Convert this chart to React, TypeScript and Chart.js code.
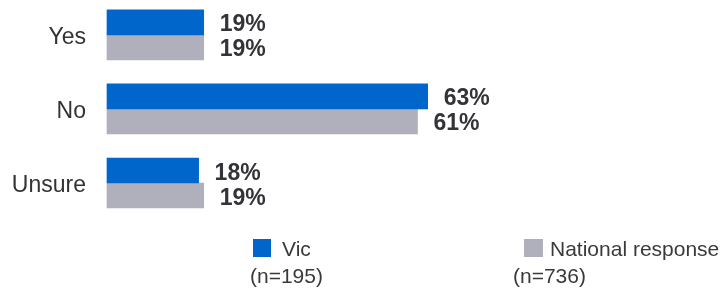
import React, { useEffect, useRef } from "react";
import { Chart, registerables } from "chart.js";

Chart.register(...registerables);

const categories = ["Yes", "No", "Unsure"];
const vicValues = [19, 63, 18];
const nationalValues = [19, 61, 19];
const seriesNames = ["Vic", "National response"];
const seriesCounts = ["(n=195)", "(n=736)"];
const seriesColors = ["#0066CC", "#B0B0BC"];

const FONT = "'Liberation Sans', Arial, Helvetica, sans-serif";

const valueLabelPlugin = {
  id: "valueLabels",
  afterDatasetsDraw(chart: any) {
    const ctx = chart.ctx;
    ctx.save();
    ctx.font = `bold 23px ${FONT}`;
    ctx.fillStyle = "#333338";
    ctx.textAlign = "left";
    ctx.textBaseline = "alphabetic";
    chart.data.datasets.forEach((ds: any, di: number) => {
      const meta = chart.getDatasetMeta(di);
      meta.data.forEach((bar: any, i: number) => {
        const v = ds.data[i];
        ctx.fillText(`${v}%`, bar.x + 16, bar.y + 9);
      });
    });
    ctx.restore();
  },
};

export default function App() {
  const canvasRef = useRef<HTMLCanvasElement | null>(null);

  useEffect(() => {
    if (!canvasRef.current) return;
    const chart = new Chart(canvasRef.current, {
      type: "bar",
      data: {
        labels: categories,
        datasets: [
          {
            label: seriesNames[0],
            data: vicValues,
            backgroundColor: seriesColors[0],
            barThickness: 25,
            clip: false as any,
          },
          {
            label: seriesNames[1],
            data: nationalValues,
            backgroundColor: seriesColors[1],
            barThickness: 25,
            clip: false as any,
          },
        ],
      },
      options: {
        indexAxis: "y",
        animation: false,
        responsive: false,
        maintainAspectRatio: false,
        layout: { padding: { top: 31, bottom: 105, left: 0, right: 105 } },
        plugins: {
          legend: { display: false },
          tooltip: { enabled: false },
        },
        scales: {
          x: { display: false, min: 0, max: 100 },
          y: {
            offset: false,
            grid: { display: false, drawTicks: false },
            border: { display: false },
            ticks: {
              color: "#333333",
              font: { family: FONT, size: 23 },
              padding: 21,
              labelOffset: 3,
            },
            afterFit: (scale: any) => {
              scale.width = 107;
            },
          },
        },
      },
      plugins: [valueLabelPlugin],
    });
    return () => chart.destroy();
  }, []);

  const textStyle: React.CSSProperties = {
    position: "absolute",
    fontFamily: FONT,
    fontSize: 21,
    lineHeight: "21px",
    color: "#3a3a3a",
    whiteSpace: "nowrap",
  };

  return (
    <div style={{ position: "absolute", left: 0, top: 0, width: 721, height: 288, overflow: "hidden", background: "#fff" }}>
      <canvas ref={canvasRef} width={721} height={288} style={{ position: "absolute", left: 0, top: 0, width: 721, height: 288 }} />
      <div style={{ position: "absolute", left: 252.5, top: 238.5, width: 18.5, height: 18.5, background: seriesColors[0] }} />
      <div style={{ ...textStyle, left: 282, top: 238 }}>{seriesNames[0]}</div>
      <div style={{ ...textStyle, left: 250, top: 265 }}>{seriesCounts[0]}</div>
      <div style={{ position: "absolute", left: 524, top: 238.5, width: 18.5, height: 18.5, background: seriesColors[1] }} />
      <div style={{ ...textStyle, left: 550, top: 238 }}>{seriesNames[1]}</div>
      <div style={{ ...textStyle, left: 513, top: 265 }}>{seriesCounts[1]}</div>
    </div>
  );
}
